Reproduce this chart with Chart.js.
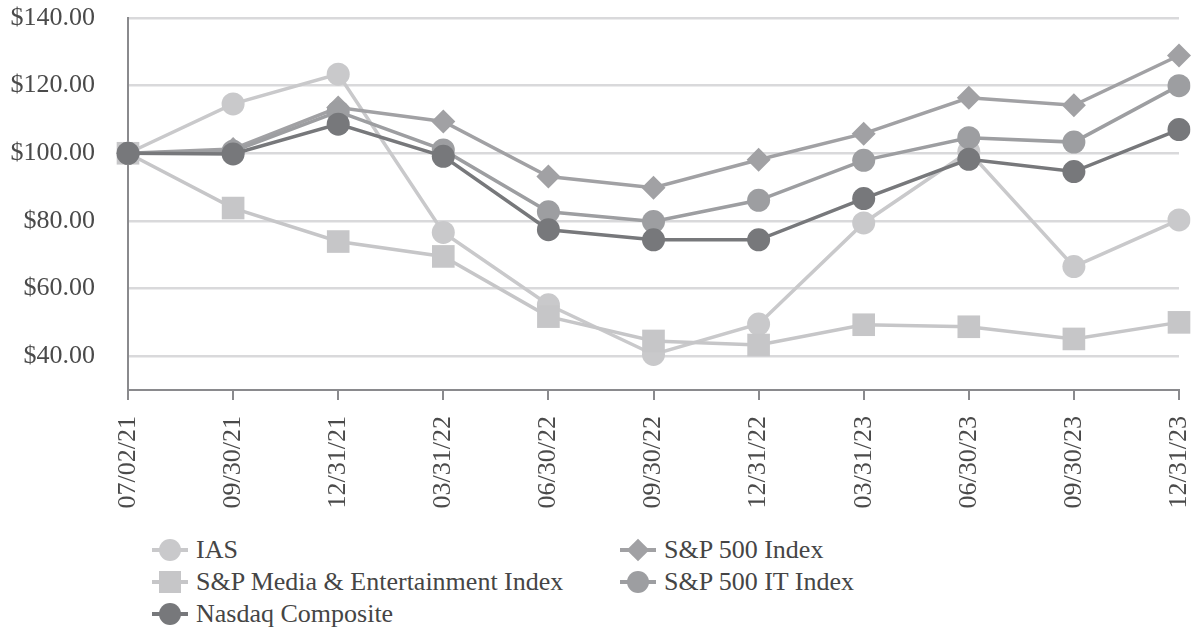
<!DOCTYPE html>
<html>
<head>
<meta charset="utf-8">
<script src="https://cdn.jsdelivr.net/npm/chart.js@4"></script>
<style>
body{margin:0;background:#fff;width:1199px;height:634px;overflow:hidden;font-family:"Liberation Serif","Times New Roman",serif}
#wrap{position:absolute;left:0;top:0;width:1199px;height:520px}
.lg{position:absolute;font-size:26px;color:#454545;height:32px;line-height:32px;white-space:nowrap}
.lg .ln{position:absolute;left:0;top:14px;width:36px;height:4px}
.lg .mk{position:absolute}
.lg span{position:absolute;left:44px;top:0}
</style>
</head>
<body>
<div id="wrap"><canvas id="perfChart"></canvas></div>
<div id="legend"></div>
<script>
const labels = ["07/02/21","09/30/21","12/31/21","03/31/22","06/30/22","09/30/22","12/31/22","03/31/23","06/30/23","09/30/23","12/31/23"]
const ias = [100,114.6,123.4,76.6,55.2,40.5,49.5,79.4,100.5,66.5,80.3]
const media = [100,83.8,73.9,69.5,51.7,44.5,43.3,49.3,48.7,45.1,50]
const sp500 = [100,101.3,113.5,109.4,93.1,89.8,98.1,105.8,116.4,114.2,128.9]
const spIT = [100,100.6,112.3,101,82.7,79.8,86.1,97.9,104.6,103.3,120]
const nasdaq = [100,99.8,108.6,99.1,77.4,74.4,74.4,86.6,98.2,94.6,107]
const yTicks = [40,60,80,100,120,140]

const fontFam = '"Liberation Serif","Times New Roman",serif'

const series = [
{label:"IAS",data:ias,color:"#c9c9cb",shape:"circle",r:11.5,order:5},
{label:"S&P Media & Entertainment Index",data:media,color:"#c6c6c8",shape:"rect",r:16,order:4},
{label:"S&P 500 Index",data:sp500,color:"#a1a1a4",shape:"rectRot",r:12,order:3},
{label:"S&P 500 IT Index",data:spIT,color:"#9d9ea1",shape:"circle",r:11.5,order:2},
{label:"Nasdaq Composite",data:nasdaq,color:"#77787b",shape:"circle",r:11.5,order:1}
]

const perf = document.getElementById("perfChart")

new Chart(perf,{
type:"line",
data:{
labels:labels,
datasets:series.map(s=>({
label:s.label,
data:s.data,
borderColor:s.color,
backgroundColor:s.color,
borderWidth:3.5,
pointStyle:s.shape,
pointRadius:s.r,
pointHoverRadius:s.r,
pointBorderWidth:0,
order:s.order,
tension:0
}))
},
options:{
responsive:true,
maintainAspectRatio:false,
animation:false,
events:[],
layout:{padding:{top:18,right:20,left:0,bottom:0}},
plugins:{legend:{display:false},tooltip:{enabled:false}},
scales:{
x:{
offset:false,
grid:{drawOnChartArea:false,drawTicks:true,tickLength:10,color:"#8a8a8d",lineWidth:2},
border:{display:true,color:"#8a8a8d",width:2},
ticks:{minRotation:90,maxRotation:90,autoSkip:false,padding:16,color:"#4a4a4a",font:{family:fontFam,size:26}},
afterFit:function(scale){scale.height=130;scale.paddingLeft=0;scale.paddingRight=0}
},
y:{
min:30,
max:140,
afterBuildTicks:function(scale){scale.ticks=yTicks.map(v=>({value:v}))},
grid:{color:"#d9d9db",lineWidth:2.5,drawTicks:false},
border:{display:true,color:"#8a8a8d",width:2},
ticks:{padding:33,color:"#4a4a4a",font:{family:fontFam,size:26},callback:v=>"$"+Number(v).toFixed(2)},
afterFit:function(scale){scale.width=128;scale.paddingTop=0;scale.paddingBottom=0}
}
}
}
})

// legend in two columns like the original
const lgPos = [[152,534],[152,566],[620,534],[620,566],[152,598]]
const lgBox = document.getElementById("legend")
series.forEach((s,k)=>{
const d = document.createElement("div")
d.className="lg"
d.style.left=lgPos[k][0]+"px"
d.style.top=lgPos[k][1]+"px"
let mk=""
if(s.shape=="circle") mk='<div class="mk" style="left:7px;top:5px;width:22px;height:22px;border-radius:50%;background:'+s.color+'"></div>'
if(s.shape=="rect") mk='<div class="mk" style="left:7px;top:5px;width:22px;height:22px;background:'+s.color+'"></div>'
if(s.shape=="rectRot") mk='<div class="mk" style="left:10px;top:8px;width:16px;height:16px;transform:rotate(45deg);background:'+s.color+'"></div>'
d.innerHTML='<div class="ln" style="background:'+s.color+'"></div>'+mk+'<span>'+s.label.replace("&","&amp;")+'</span>'
lgBox.appendChild(d)
})
</script>
</body>
</html>
